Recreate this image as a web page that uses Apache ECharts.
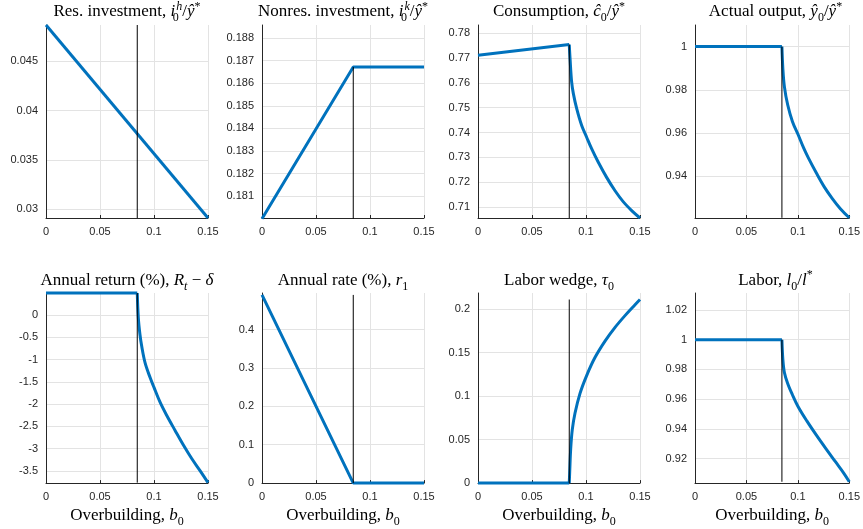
<!DOCTYPE html>
<html><head><meta charset="utf-8">
<script src="https://cdn.jsdelivr.net/npm/echarts@6/dist/echarts.min.js"></script>
<style>html,body{margin:0;padding:0;background:#fff}#c{width:863px;height:529px}</style>
</head><body><div id="c"></div>
<script>
// ---- data ----
const bKink = 0.0845;
const xTicks = [0, 0.05, 0.1, 0.15];

const resB = [0, 0.15];
const resV = [0.0487, 0.0291];

const nonresB = [0, 0.0845, 0.15];
const nonresV = [0.1800, 0.18672, 0.18672];

const consB = [0, 0.0845, 0.0852, 0.0867, 0.0883, 0.0914, 0.096, 0.1006, 0.1053, 0.1114, 0.1191, 0.1269, 0.1346, 0.1423, 0.15];
const consV = [0.7712, 0.7755, 0.770, 0.7604, 0.7557, 0.7496, 0.7428, 0.7381, 0.7334, 0.728, 0.7219, 0.7165, 0.712, 0.7085, 0.7055];

const outB = [0, 0.0845, 0.0854, 0.0869, 0.0901, 0.0947, 0.1003, 0.1056, 0.1102, 0.118, 0.1258, 0.1335, 0.1413, 0.15];
const outV = [1, 1, 0.990, 0.9815, 0.9731, 0.9654, 0.9592, 0.9531, 0.9485, 0.9415, 0.935, 0.9297, 0.925, 0.9208];

const retB = [0, 0.0845, 0.0855, 0.087, 0.0886, 0.0917, 0.0963, 0.1, 0.1056, 0.1117, 0.1194, 0.1272, 0.1349, 0.1426, 0.15];
const retV = [0.49, 0.49, -0.07, -0.44, -0.70, -1.07, -1.40, -1.625, -1.957, -2.25, -2.585, -2.917, -3.22, -3.49, -3.76];

const rateB = [0, 0.0845, 0.15];
const rateV = [0.49, 0, 0];

const tauB = [0, 0.0845, 0.0849, 0.0858, 0.0873, 0.0898, 0.0944, 0.1006, 0.1083, 0.1176, 0.1269, 0.1361, 0.1454, 0.15];
const tauV = [0, 0, 0.0124, 0.0388, 0.0614, 0.0803, 0.1029, 0.1236, 0.1443, 0.1632, 0.179, 0.1925, 0.205, 0.211];

const labB = [0, 0.0845, 0.0854, 0.0869, 0.0901, 0.0947, 0.1, 0.1087, 0.118, 0.1274, 0.1367, 0.1444, 0.15];
const labV = [1, 1, 0.987, 0.978, 0.9706, 0.963, 0.9553, 0.9454, 0.9358, 0.9266, 0.9178, 0.9105, 0.9045];

const yMin = [0.0291, 0.18003, 0.7055, 0.9207, -3.77, 0, 0, 0.9036];
const yMax = [0.0487, 0.18858, 0.7834, 1.01, 0.49, 0.495, 0.2185, 1.0314];
const yStep = [0.005, 0.001, 0.01, 0.02, 0.5, 0.1, 0.05, 0.02];
const ySplit = [4, 8, 7, 4, 8, 5, 4, 6];

const titles = [
  '{t|Res. investment, }{it|i}{sbz|0}{spi|h}{t|/}{it|ŷ}{sp|*}',
  '{t|Nonres. investment, }{it|i}{sbz|0}{spi|k}{t|/}{it|ŷ}{sp|*}',
  '{t|Consumption, }{it|ĉ}{sb|0}{t|/}{it|ŷ}{sp|*}',
  '{t|Actual output, }{it|ŷ}{sb|0}{t|/}{it|ŷ}{sp|*}',
  '{t|Annual return (%), }{it|R}{sbi|t}{t| − }{it|δ}',
  '{t|Annual rate (%), }{it|r}{sb|1}',
  '{t|Labor wedge, }{it|τ}{sb|0}',
  '{t|Labor, }{it|l}{sb|0}{t|/}{it|l}{sp|*}'
];
const xName = '{t|Overbuilding, }{it|b}{sb|0}';

// ---- layout/style ----
const SERIF = '"Liberation Serif", "DejaVu Serif", serif';
const FS = 17, SFS = 12;
const R = {
  t: {fontFamily: SERIF, fontSize: FS, lineHeight: 26, color: '#000'},
  it: {fontFamily: SERIF, fontSize: FS, lineHeight: 26, fontStyle: 'italic', color: '#000'},
  sb: {fontFamily: SERIF, fontSize: SFS, lineHeight: 10, verticalAlign: 'top', padding: [13, 0, 0, 0], color: '#000'},
  sbi: {fontFamily: SERIF, fontSize: SFS, lineHeight: 10, fontStyle: 'italic', verticalAlign: 'top', padding: [13, 0, 0, 0], color: '#000'},
  sbz: {fontFamily: SERIF, fontSize: SFS, lineHeight: 10, width: 1, verticalAlign: 'top', padding: [13, 0, 0, 0], color: '#000'},
  sp: {fontFamily: SERIF, fontSize: SFS, lineHeight: 10, verticalAlign: 'top', padding: [1.5, 0, 0, 0], color: '#000'},
  spi: {fontFamily: SERIF, fontSize: SFS, lineHeight: 10, fontStyle: 'italic', verticalAlign: 'top', padding: [1.5, 0, 0, 0], color: '#000'}
};
const colLeft = [46, 262, 478, 695];
const colW = [162, 162, 162, 161];
const rowTop = [25, 293];
const rowH = [193, 195];
const titleY = [12, 280.5];

const seriesB = [resB, nonresB, consB, outB, retB, rateB, tauB, labB];
const seriesV = [resV, nonresV, consV, outV, retV, rateV, tauV, labV];

const grids = [], xAxes = [], yAxes = [], series = [], graphics = [];
for (let i = 0; i < 8; i++) {
  const r = Math.floor(i / 4), c = i % 4;
  grids.push({left: colLeft[c], top: rowTop[r], width: colW[c], height: rowH[r], containLabel: false});
  xAxes.push({
    type: 'value', gridIndex: i, min: xTicks[0], max: xTicks[xTicks.length - 1], interval: xTicks[1] - xTicks[0],
    axisLine: {show: true, onZero: false, lineStyle: {color: '#262626', width: 1}},
    axisTick: {show: true, inside: true, length: 3, lineStyle: {color: '#262626'}},
    axisLabel: {color: '#262626', fontFamily: '"Liberation Sans", Arial, sans-serif', fontSize: 11, margin: 8,
      formatter: v => String(+v.toFixed(6))},
    splitLine: {show: true, lineStyle: {color: '#e3e3e3', width: 1}},
    name: r === 1 ? xName : '', nameLocation: 'middle', nameGap: 15,
    nameTextStyle: {rich: R}
  });
  const step = yStep[i];
  yAxes.push({
    type: 'value', gridIndex: i, min: yMin[i], max: yMax[i], splitNumber: ySplit[i], scale: true,
    axisLine: {show: true, onZero: false, lineStyle: {color: '#262626', width: 1}},
    axisTick: {show: false},
    axisLabel: {color: '#262626', fontFamily: '"Liberation Sans", Arial, sans-serif', fontSize: 11, margin: 8,
      formatter: v => { const k = v / step; if (Math.abs(k - Math.round(k)) > 1e-6) return ''; return String(+v.toFixed(6)); }},
    splitLine: {show: true, showMinLine: false, showMaxLine: false, lineStyle: {color: '#e3e3e3', width: 1}}
  });
  const B = seriesB[i], V = seriesV[i];
  const pts = B.map((b, j) => [b, V[j]]);
  const curved = pts.length > 3;
  const common = {type: 'line', xAxisIndex: i, yAxisIndex: i, showSymbol: false, clip: false,
    lineStyle: {color: '#0072BD', width: 3}, z: 2, animation: false};
  if (curved) {
    series.push(Object.assign({}, common, {data: pts.slice(0, 2)}));
    series.push(Object.assign({}, common, {data: pts.slice(1), smooth: 0.35}));
  } else {
    series.push(Object.assign({}, common, {data: pts}));
  }
  series.push({
    type: 'line', xAxisIndex: i, yAxisIndex: i,
    data: [[bKink, Math.min(...V)], [bKink, Math.max(...V)]],
    showSymbol: false, clip: false, lineStyle: {color: '#000', width: 1}, z: 3, animation: false
  });
  graphics.push({
    type: 'text', x: colLeft[c] + colW[c] / 2, y: titleY[r],
    style: {text: titles[i], rich: R, align: 'center', verticalAlign: 'middle'}
  });
}

const chart = echarts.init(document.getElementById('c'), null, {renderer: 'canvas'});
chart.setOption({
  animation: false,
  backgroundColor: '#fff',
  grid: grids, xAxis: xAxes, yAxis: yAxes, series: series, graphic: graphics
});
</script></body></html>
